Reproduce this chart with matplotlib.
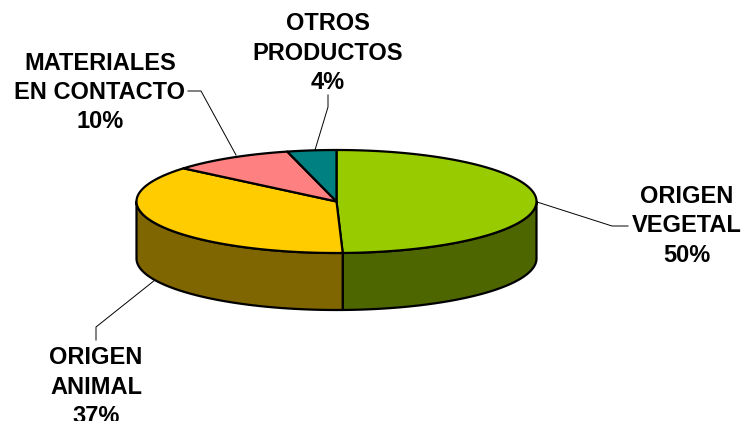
#!/usr/bin/env python3
"""Tilted pie with a side wall, drawn as polygons in pixel coordinates."""
import numpy as np
import matplotlib
matplotlib.use("Agg")
import matplotlib.pyplot as plt
from matplotlib.patches import Polygon

CATEGORIES = ["ORIGEN\nVEGETAL", "ORIGEN\nANIMAL", "MATERIALES\nEN CONTACTO", "OTROS\nPRODUCTOS"]
VALUES = [50, 37, 10, 4]
TOP_COLORS = ["#99cc00", "#ffcc00", "#ff8080", "#008080"]
SIDE_COLORS = ["#4d6600", "#806600", "#804040", "#004040"]

CX, CY, RX, RY = 336.5, 201.5, 200, 51.5
DEPTH = 57
LABEL_POS = [(687, 226), (96, 387), (100, 92.5), (328, 53)]
LEADERS = [
    [(537, 202), (612, 226), (628, 226)],
    [(155, 280), (96, 327), (96, 340)],
    [(236, 155), (201, 91), (188, 91)],
    [(315, 150), (328, 107), (328, 95)],
]


def rim(a0, a1, dy=0.0):
    # angles are clockwise from 12 o'clock, in degrees
    t = np.deg2rad(np.linspace(a0, a1, 200))
    return np.column_stack([CX + RX * np.sin(t), CY - RY * np.cos(t) + dy])


def main():
    fig = plt.figure(figsize=(7.46, 4.21), dpi=100)
    ax = fig.add_axes([0, 0, 1, 1])
    ax.set_xlim(0, 746)
    ax.set_ylim(421, 0)
    ax.axis("off")

    edges = np.concatenate([[0], np.cumsum(VALUES)]) / sum(VALUES) * 360

    # side wall, only the part of the rim facing the viewer
    for i in range(len(VALUES)):
        a0, a1 = max(edges[i], 90), min(edges[i + 1], 270)
        if a0 >= a1:
            continue
        pts = np.vstack([rim(a0, a1), rim(a1, a0, DEPTH)])
        ax.add_patch(Polygon(pts, closed=True, facecolor=SIDE_COLORS[i],
                             edgecolor="black", linewidth=1.6, joinstyle="round"))

    # top face
    for i in range(len(VALUES)):
        pts = np.vstack([[CX, CY], rim(edges[i], edges[i + 1])])
        ax.add_patch(Polygon(pts, closed=True, facecolor=TOP_COLORS[i],
                             edgecolor="black", linewidth=1.6, joinstyle="round"))

    for line in LEADERS:
        xs, ys = zip(*line)
        ax.plot(xs, ys, color="black", linewidth=0.7)

    for name, val, (x, y) in zip(CATEGORIES, VALUES, LABEL_POS):
        ax.text(x, y, f"{name}\n{val}%", ha="center", va="center", ma="center",
                fontsize=17, fontweight="bold", family="Liberation Sans",
                linespacing=1.36, clip_on=True)

    fig.savefig("out.png", dpi=100, facecolor="white")


if __name__ == "__main__":
    main()
